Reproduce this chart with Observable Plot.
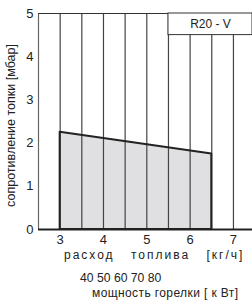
<!DOCTYPE html>
<html><head><meta charset="utf-8">
<script src="https://cdn.jsdelivr.net/npm/d3@7"></script>
<script src="https://cdn.jsdelivr.net/npm/@observablehq/plot@0.6"></script>
<style>
body{margin:0;background:#fff;font-family:"Liberation Sans",Arial,sans-serif}
#wrap{position:relative;width:252px;height:300px;overflow:hidden;background:#fff}
.cap{position:absolute;white-space:pre;color:#222;line-height:1}
</style></head><body><div id="wrap"></div>
<script>
const flow = [3, 6.5];
const resistance = [2.25, 1.75];
const gridX = [3, 3.5, 4, 4.5, 5, 5.5, 6, 6.5, 7];
const xTicks = [3, 4, 5, 6, 7];
const yTicks = [0, 1, 2, 3, 4, 5];
const xDomain = [2.5, 7.44];
const yDomain = [0, 5];
const legendBox = [{x1: 5.5, x2: 7.44, y1: 4.5, y2: 5}];
const legendLabel = "R20 - V";
const yLabel = "сопротивление топки [мбар]";
const xLabel = "расход топлива [кг/ч]";
const powerTicks = "40 50 60 70 80";
const powerLabel = "мощность горелки [ к Вт]";

const data = flow.map((x, i) => ({x, y: resistance[i]}));

const chart = Plot.plot({
  width: 252, height: 248,
  marginTop: 13, marginBottom: 19, marginLeft: 38, marginRight: 0,
  x: {domain: xDomain},
  y: {domain: yDomain},
  style: {fontFamily: "'Liberation Sans', Arial, sans-serif", fontSize: "13px", color: "#222", background: "white"},
  marks: [
    Plot.areaY(data, {x: "x", y: "y", fill: "#e0e0e2"}),
    Plot.ruleX(gridX, {y1: 0, y2: d => d > legendBox[0].x1 ? legendBox[0].y1 : yDomain[1], stroke: "#444", strokeWidth: 1.2}),
    Plot.areaY(data, {x: "x", y: "y", fill: "none", stroke: "#222", strokeWidth: 2}),
    Plot.ruleX([xDomain[0]], {stroke: "#666", strokeWidth: 1.2}),
    Plot.ruleY([yDomain[1]], {stroke: "#333", strokeWidth: 1.2}),
    Plot.ruleY([0], {stroke: "#222", strokeWidth: 2}),
    Plot.rect(legendBox, {x1: "x1", x2: "x2", y1: "y1", y2: "y2", fill: "white", stroke: "#333", strokeWidth: 1}),
    Plot.text(legendBox, {x: d => (d.x1 + d.x2) / 2, y: d => (d.y1 + d.y2) / 2, text: () => legendLabel, fontSize: 12, fill: "#222"}),
    Plot.text([yLabel], {frameAnchor: "left", textAnchor: "middle", rotate: -90, dx: -28, dy: 4, fontSize: 12.5, fill: "#222"}),
    Plot.axisX(xTicks, {tickSize: 0, tickPadding: 5, label: null}),
    Plot.axisY(yTicks, {tickSize: 0, tickPadding: 5, label: null})
  ]
});
const wrap = document.getElementById("wrap");
wrap.appendChild(chart);

function cap(text, left, top, size, extra) {
  const d = document.createElement("div");
  d.className = "cap";
  d.textContent = text;
  d.style.left = left + "px";
  d.style.top = top + "px";
  d.style.fontSize = size + "px";
  Object.assign(d.style, extra || {});
  wrap.appendChild(d);
}
cap(xLabel, 64, 249, 12, {letterSpacing: "2px", wordSpacing: "11px"});
cap(powerTicks, 80, 272, 12.2);
cap(powerLabel, 92, 287, 12, {letterSpacing: "0.4px"});
</script></body></html>
